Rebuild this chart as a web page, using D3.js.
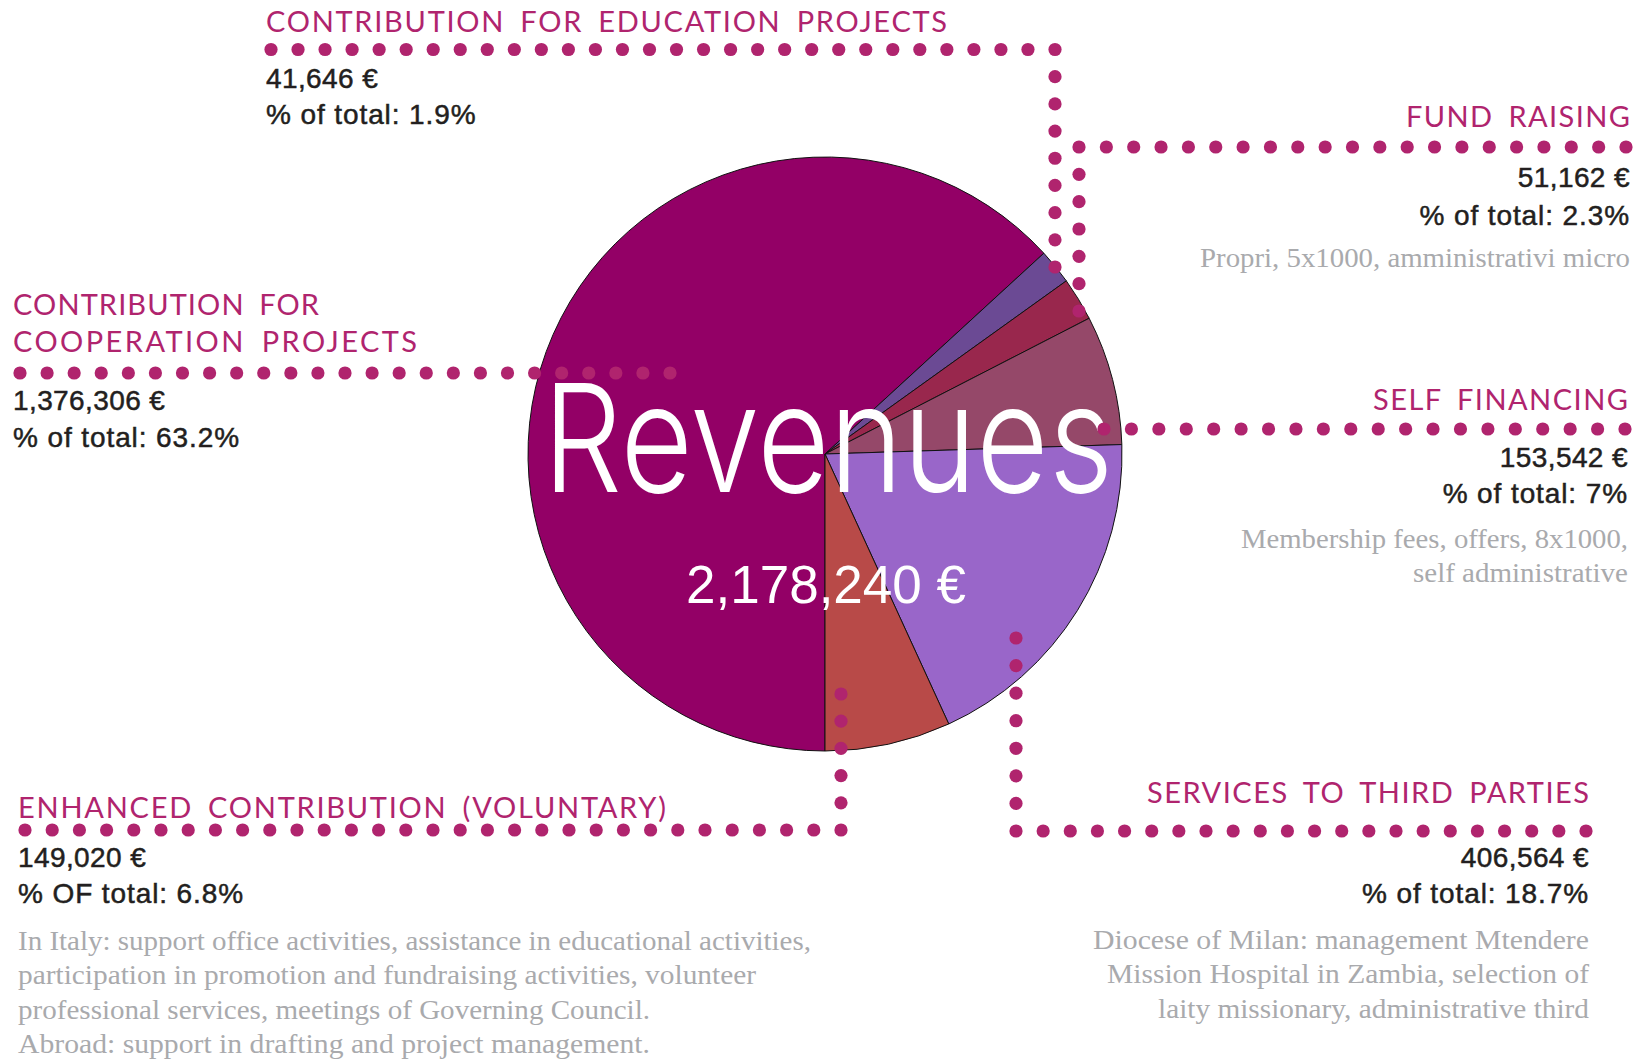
<!DOCTYPE html>
<html>
<head>
<meta charset="utf-8">
<script src="https://cdn.jsdelivr.net/npm/d3@7"></script>
<style>
  html, body { margin: 0; padding: 0; background: #ffffff; }
  svg { display: block; }
</style>
</head>
<body>
<div id="chart"></div>
<script>
// ---------------- DATA ----------------
const categories = [
  "CONTRIBUTION FOR COOPERATION PROJECTS",
  "CONTRIBUTION FOR EDUCATION PROJECTS",
  "FUND RAISING",
  "SELF FINANCING",
  "SERVICES TO THIRD PARTIES",
  "ENHANCED CONTRIBUTION (VOLUNTARY)"
];
const titleLines = [
  ["CONTRIBUTION FOR", "COOPERATION PROJECTS"],
  ["CONTRIBUTION FOR EDUCATION PROJECTS"],
  ["FUND RAISING"],
  ["SELF FINANCING"],
  ["SERVICES TO THIRD PARTIES"],
  ["ENHANCED CONTRIBUTION (VOLUNTARY)"]
];
const values = [1376306, 41646, 51162, 153542, 406564, 149020];
const percentLabels = [
  "% of total: 63.2%",
  "% of total: 1.9%",
  "% of total: 2.3%",
  "% of total: 7%",
  "% of total: 18.7%",
  "% OF total: 6.8%"
];
const notes = [
  [],
  [],
  ["Propri, 5x1000, amministrativi micro"],
  ["Membership fees, offers, 8x1000,", "self administrative"],
  ["Diocese of Milan: management Mtendere",
   "Mission Hospital in Zambia, selection of",
   "laity missionary, administrative third"],
  ["In Italy: support office activities, assistance in educational activities,",
   "participation in promotion and fundraising activities, volunteer",
   "professional services, meetings of Governing Council.",
   "Abroad: support in drafting and project management."]
];
const centerTitle = "Revenues";

// ---------------- STYLE / LAYOUT ----------------
const W = 1649, H = 1059;
const sliceColors = ["#930066", "#6b4a94", "#99274d", "#954869", "#9966c9", "#b84a48"];
const dotColor = "#b0246e";
const pie = { cx: 825, cy: 454, r: 297 };

// per-category label layout (anchor, x, baselines, widths)
const layout = [
  { anchor: "start", x: 13, titleY: [315, 352], titleW: [306, 404], valueY: 410, pctY: 447, noteY: [], noteW: [],
    leader: [[20, 373], [670, 373]] },
  { anchor: "start", x: 266, titleY: [32], titleW: [681], valueY: 88, pctY: 124, noteY: [], noteW: [],
    leader: [[271, 49.5], [1055, 49.5], [1055, 267]] },
  { anchor: "end", x: 1630, titleY: [127], titleW: [224], valueY: 187, pctY: 225, noteY: [267], noteW: [430],
    leader: [[1626, 147], [1079, 147], [1079, 311]] },
  { anchor: "end", x: 1628, titleY: [410], titleW: [255], valueY: 467, pctY: 503, noteY: [548, 582], noteW: [387, 215],
    leader: [[1625, 429], [1104, 429]] },
  { anchor: "end", x: 1589, titleY: [803], titleW: [442], valueY: 867, pctY: 903, noteY: [949, 983, 1018], noteW: [496, 482, 431],
    leader: [[1016, 638], [1016, 831], [1586, 831]] },
  { anchor: "start", x: 18, titleY: [818], titleW: [648], valueY: 867, pctY: 903, noteY: [950, 984, 1019, 1053], noteW: [793, 738, 632, 632],
    leader: [[841, 694], [841, 830], [25, 830]] }
];

const fmt = d3.format(",");

// ---------------- DRAW ----------------
const svg = d3.select("#chart").append("svg")
  .attr("width", W).attr("height", H)
  .attr("viewBox", `0 0 ${W} ${H}`);

// Pie
const pieGen = d3.pie().sort(null).value(d => d)
  .startAngle(Math.PI).endAngle(3 * Math.PI);
const arcGen = d3.arc().innerRadius(0).outerRadius(pie.r);
const arcs = pieGen(values);

const gPie = svg.append("g").attr("transform", `translate(${pie.cx},${pie.cy})`);
gPie.selectAll("path.slice").data(arcs).join("path")
  .attr("class", "slice")
  .attr("d", arcGen)
  .attr("fill", (d, i) => sliceColors[i])
  .attr("stroke", "#111")
  .attr("stroke-width", 1);

// Center texts
svg.append("text")
  .attr("x", 543).attr("y", 492)
  .attr("textLength", 570).attr("lengthAdjust", "spacingAndGlyphs")
  .attr("font-family", "Inter, 'Open Sans', sans-serif")
  .attr("font-weight", 300)
  .attr("font-size", 150)
  .attr("fill", "#ffffff")
  .text(centerTitle);

svg.append("text")
  .attr("x", 826).attr("y", 603)
  .attr("text-anchor", "middle")
  .attr("font-family", "'Liberation Sans', Arial, sans-serif")
  .attr("font-size", 53)
  .attr("fill", "#ffffff")
  .text(fmt(d3.sum(values)) + " €");

// Leader dots
function dotsAlong(points, spacing) {
  const out = [];
  for (let s = 0; s < points.length - 1; s++) {
    const [x0, y0] = points[s], [x1, y1] = points[s + 1];
    const len = Math.hypot(x1 - x0, y1 - y0);
    const n = Math.max(1, Math.round(len / spacing));
    for (let k = (s === 0 ? 0 : 1); k <= n; k++) {
      out.push([x0 + (x1 - x0) * k / n, y0 + (y1 - y0) * k / n]);
    }
  }
  return out;
}

// Labels
const gLabels = svg.append("g");
categories.forEach((cat, i) => {
  const L = layout[i];
  const g = gLabels.append("g").attr("class", "label");
  titleLines[i].forEach((line, j) => {
    g.append("text")
      .attr("x", L.x).attr("y", L.titleY[j])
      .attr("text-anchor", L.anchor)
      .attr("textLength", L.titleW[j]).attr("lengthAdjust", "spacing")
      .attr("font-family", "Lato, 'Open Sans', sans-serif")
      .attr("font-size", 29)
      .attr("fill", dotColor)
      .style("word-spacing", "6px")
      .text(line);
  });
  g.append("text")
    .attr("x", L.x).attr("y", L.valueY)
    .attr("text-anchor", L.anchor)
    .attr("font-family", "'Liberation Sans', Arial, sans-serif")
    .attr("font-size", 28)
    .attr("letter-spacing", 0.4)
    .attr("fill", "#231f20")
    .attr("stroke", "#231f20").attr("stroke-width", 0.5)
    .text(fmt(values[i]) + " €");
  g.append("text")
    .attr("x", L.x).attr("y", L.pctY)
    .attr("text-anchor", L.anchor)
    .attr("font-family", "'Liberation Sans', Arial, sans-serif")
    .attr("font-size", 28)
    .attr("letter-spacing", 0.9)
    .attr("fill", "#231f20")
    .attr("stroke", "#231f20").attr("stroke-width", 0.5)
    .text(percentLabels[i]);
  notes[i].forEach((line, j) => {
    g.append("text")
      .attr("x", L.x).attr("y", L.noteY[j])
      .attr("text-anchor", L.anchor)
      .attr("textLength", L.noteW[j]).attr("lengthAdjust", "spacingAndGlyphs")
      .attr("font-family", "'Liberation Serif', 'Times New Roman', serif")
      .attr("font-size", 27)
      .attr("fill", "#a9aaad")
      .text(line);
  });
});

// Dots on top
const gDots = svg.append("g");
layout.forEach((L, i) => {
  gDots.append("g").selectAll("circle")
    .data(dotsAlong(L.leader, 27.2))
    .join("circle")
    .attr("cx", d => d[0]).attr("cy", d => d[1])
    .attr("r", 6.6)
    .attr("fill", dotColor);
});
</script>
</body>
</html>
